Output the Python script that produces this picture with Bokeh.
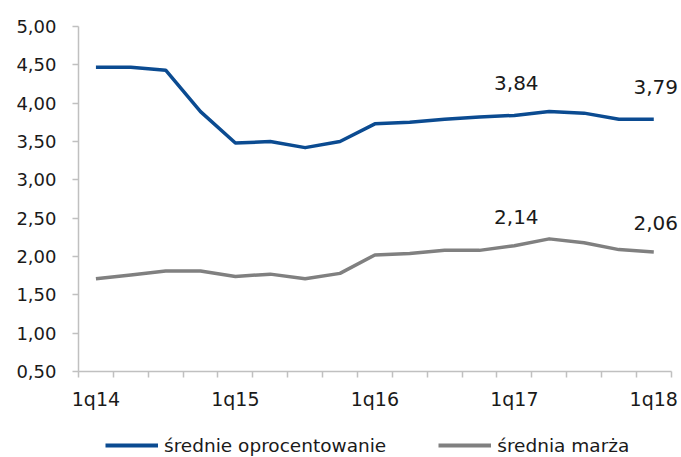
from bokeh.plotting import figure
from bokeh.layouts import column
from bokeh.models import (Range1d, FixedTicker, CustomJSTickFormatter, Legend, LegendItem,
                          ColumnDataSource)
from bokeh.embed import file_html
from bokeh.resources import INLINE

quarters = ["1q14", "2q14", "3q14", "4q14", "1q15", "2q15", "3q15", "4q15",
            "1q16", "2q16", "3q16", "4q16", "1q17", "2q17", "3q17", "4q17", "1q18"]
srednie_oprocentowanie = [4.47, 4.47, 4.43, 3.89, 3.48, 3.50, 3.42, 3.50,
                          3.73, 3.75, 3.79, 3.82, 3.84, 3.89, 3.87, 3.79, 3.79]
srednia_marza = [1.71, 1.76, 1.81, 1.81, 1.74, 1.77, 1.71, 1.78,
                 2.02, 2.04, 2.08, 2.08, 2.14, 2.23, 2.18, 2.09, 2.06]
series_names = ["średnie oprocentowanie", "średnia marża"]
labelled_idx = [12, 16]
y_ticks = [0.5, 1.0, 1.5, 2.0, 2.5, 3.0, 3.5, 4.0, 4.5, 5.0]
x_label_idx = [0, 4, 8, 12, 16]

BLUE = "#0b4b91"
GREY = "#808080"
AXIS = "#c0c0c0"
FONT = "DejaVu Sans"

n = len(quarters)
xs = list(range(n))
x_end = (n - 0.5) + 10.3 / 34.9   # frame runs a little beyond the last category

p = figure(width=681, height=412, output_backend="svg", toolbar_location=None,
           x_range=Range1d(-0.5, x_end), y_range=Range1d(0.5, 5.0),
           min_border_left=78, min_border_right=0, min_border_top=26, min_border_bottom=41)
p.outline_line_color = None
p.xgrid.visible = False
p.ygrid.visible = False

p.line(xs, srednie_oprocentowanie, line_color=BLUE, line_width=3.5, line_join="round")
p.line(xs, srednia_marza, line_color=GREY, line_width=3.5, line_join="round")

def fmt(v):
    return f"{v:.2f}".replace(".", ",")

src_b = ColumnDataSource(dict(x=labelled_idx,
                              y=[srednie_oprocentowanie[i] for i in labelled_idx],
                              t=[fmt(srednie_oprocentowanie[i]) for i in labelled_idx]))
src_g = ColumnDataSource(dict(x=labelled_idx,
                              y=[srednia_marza[i] for i in labelled_idx],
                              t=[fmt(srednia_marza[i]) for i in labelled_idx]))
for src, off in ((src_b, -32), (src_g, -29)):
    p.text(x="x", y="y", text="t", source=src, text_align="center", text_baseline="middle",
           y_offset=off, x_offset=2, text_font_size="20px", text_color="#1a1a1a",
           text_font={"value": FONT})

# y axis
ya = p.yaxis[0]
ya.ticker = FixedTicker(ticks=y_ticks, minor_ticks=[])
ya.formatter = CustomJSTickFormatter(code="return tick.toFixed(2).replace('.', ',');")
ya.axis_line_color = AXIS
ya.axis_line_width = 1.5
ya.major_tick_line_color = AXIS
ya.major_tick_line_width = 1.5
ya.major_tick_out = 6
ya.major_tick_in = 0
ya.minor_tick_line_color = None
ya.major_label_standoff = 16
ya.major_label_text_font = FONT
ya.major_label_text_font_size = "18px"
ya.major_label_text_color = "#1a1a1a"

# x axis
xa = p.xaxis[0]
xa.bounds = (-0.5, n - 0.5)
xa.ticker = FixedTicker(ticks=[float(i) for i in x_label_idx],
                        minor_ticks=[i - 0.5 for i in range(n + 1)])
xa.formatter = CustomJSTickFormatter(args=dict(labels=quarters),
                                     code="return labels[Math.round(tick)];")
xa.axis_line_color = AXIS
xa.axis_line_width = 1.5
xa.major_tick_out = 0
xa.major_tick_in = 0
xa.minor_tick_line_color = AXIS
xa.minor_tick_line_width = 1.5
xa.minor_tick_out = 6
xa.minor_tick_in = 0
xa.major_label_standoff = 10
xa.major_label_text_font = FONT
xa.major_label_text_font_size = "19px"
xa.major_label_text_color = "#1a1a1a"

# legend strip below the chart (its series lie outside its range, only the legend shows)
pl = figure(width=681, height=45, output_backend="svg", toolbar_location=None,
            x_range=Range1d(0, 1), y_range=Range1d(0, 1),
            min_border_left=0, min_border_right=0, min_border_top=0, min_border_bottom=0)
pl.outline_line_color = None
pl.axis.visible = False
pl.xgrid.visible = False
pl.ygrid.visible = False
lr1 = pl.line(xs, srednie_oprocentowanie, line_color=BLUE, line_width=4)
lr2 = pl.line(xs, srednia_marza, line_color=GREY, line_width=4)

legend = Legend(items=[LegendItem(label=series_names[0], renderers=[lr1]),
                       LegendItem(label=series_names[1], renderers=[lr2])],
                orientation="horizontal", location=(27, 0),
                glyph_width=53, glyph_height=24, label_height=24, label_standoff=6, spacing=52,
                padding=0, margin=0, border_line_color=None, background_fill_alpha=0,
                label_text_font=FONT, label_text_font_size="18.5px", label_text_color="#1a1a1a")
pl.add_layout(legend, "center")

layout = column(p, pl, spacing=0)
open("out.html", "w").write(file_html(layout, INLINE))
